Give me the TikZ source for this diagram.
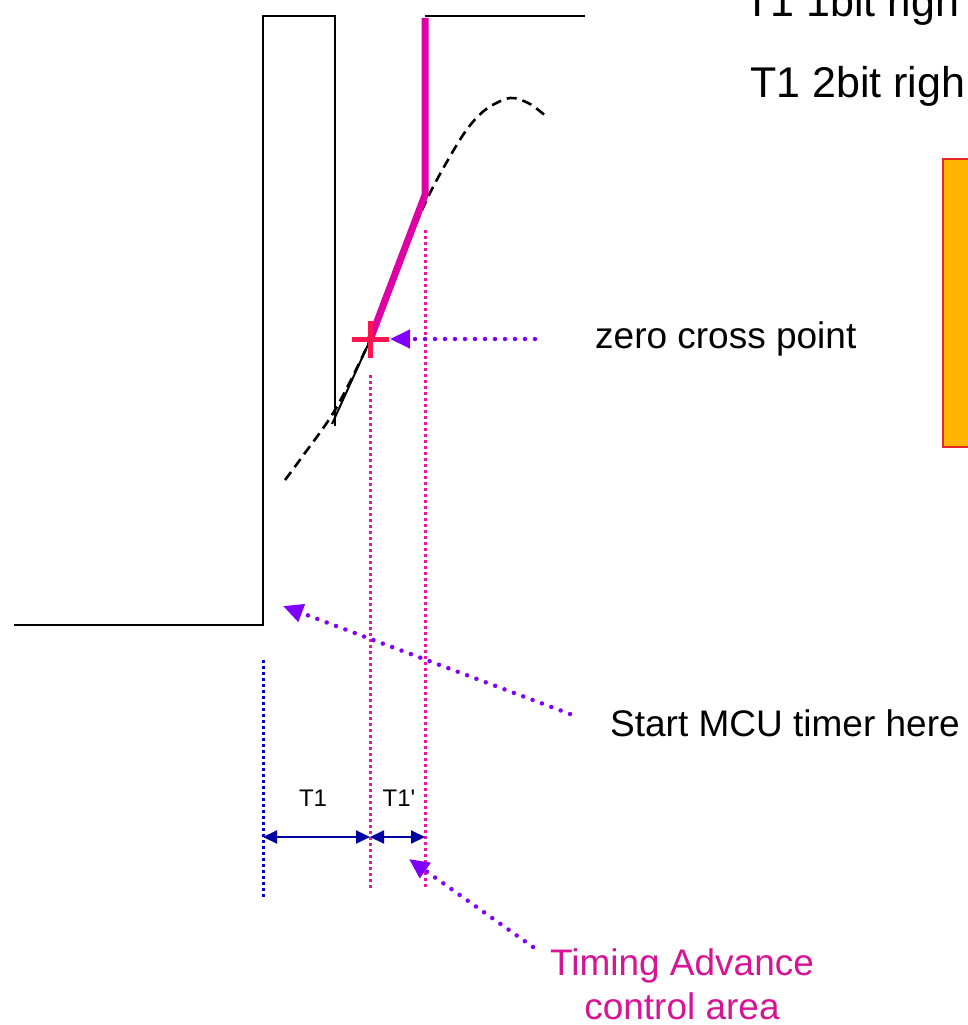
\documentclass[tikz,border=0pt]{standalone}
\usepackage{fontspec}
\setmainfont{Liberation Sans}
\usetikzlibrary{arrows.meta}
\definecolor{magline}{RGB}{220,0,165}
\definecolor{pinkdot}{RGB}{240,20,165}
\definecolor{purparrow}{RGB}{128,0,255}
\definecolor{redplus}{RGB}{255,20,80}
\definecolor{bluedot}{RGB}{0,0,200}
\definecolor{bluearr}{RGB}{0,0,165}
\definecolor{orangefill}{RGB}{255,180,0}
\definecolor{orangeedge}{RGB}{235,40,40}
\definecolor{magtext}{RGB}{215,20,150}
\begin{document}
\begin{tikzpicture}[x=1pt,y=-1pt,
  wave/.style={black,line width=2pt},
  sinedash/.style={black,line width=2.6pt,dash pattern=on 10pt off 6pt},
  magthick/.style={magline,line width=7pt,line join=round},
  pinkvert/.style={pinkdot,line width=3pt,dash pattern=on 3pt off 3pt},
  bluevert/.style={bluedot,line width=3pt,dash pattern=on 3pt off 3pt},
  purpdots/.style={purparrow,line width=4.5pt,line cap=round,dash pattern=on 0pt off 10pt,
     -{Triangle[length=20pt,width=18pt,line cap=butt]}},
  bluedim/.style={bluearr,line width=2pt,{Triangle[length=14pt,width=13pt]}-{Triangle[length=14pt,width=13pt]}},
  bigtxt/.style={font=\fontsize{37}{44}\selectfont,inner sep=0pt},
  toptxt/.style={font=\fontsize{43}{50}\selectfont,inner sep=0pt},
  smalltxt/.style={font=\fontsize{24}{28}\selectfont,inner sep=0pt}]
\useasboundingbox (0,0) rectangle (968,1025);
\clip (0,0) rectangle (968,1025);

% orange box (cut at right edge)
\draw[fill=orangefill,draw=orangeedge,line width=2pt] (943,159) rectangle (985,447);

% black waveform
\draw[wave] (14,625) -- (263,625) -- (263,16) -- (335,16) -- (335,426);
\draw[wave] (425,16) -- (585,16);
\draw[wave] (332,424) -- (372,336);

% dashed sine
\draw[sinedash] plot[smooth] coordinates {(285,480) (302,457) (335,410) (370,340) (400,262) (430,193) (463,135) (485,110) (510,98) (530,104) (548,118)};

% dotted verticals
\draw[pinkvert] (370,375) -- (370,888);
\draw[pinkvert] (425,230) -- (425,888);
\draw[bluevert] (263,660) -- (263,898);

% magenta thick edge
\draw[magthick] (425,18) -- (425,195) -- (370,340);

% red plus (zero cross point)
\coordinate (zc) at (370,339);
\draw[redplus,line width=5pt] (352,339) -- (389,339);
\draw[redplus,line width=5pt] (370,321) -- (370,358);

% labels
\node[bigtxt,anchor=west] (zcp) at (595,339) {zero cross point};
\node[bigtxt,anchor=west] (smt) at (610,723) {Start MCU timer here};
\node[bigtxt,align=center,text=magtext] (tac) at (682,984) {Timing Advance\\control area};
\node[toptxt,anchor=base west] (t1a) at (744,17) {T1 1bit righ};
\node[toptxt,anchor=base west] (t1b) at (750,97) {T1 2bit righ};
\node[smalltxt] (lt1) at (313,798) {T1};
\node[smalltxt] (lt1p) at (399,798) {T1\textquotesingle};

% purple dotted arrows
\coordinate (a1s) at (535,339);
\coordinate (a1e) at (390,339);
\draw[purpdots] (a1s) -- (a1e);
\coordinate (a2s) at (570,714);
\coordinate (a2e) at (283,606);
\draw[purpdots] (a2s) -- (a2e);
\coordinate (a3s) at (533,947);
\coordinate (a3e) at (409,859);
\draw[purpdots] (a3s) -- (a3e);

% dimension arrows
\coordinate (d0) at (263,837);
\coordinate (d1) at (370,837);
\coordinate (d2) at (425,837);
\draw[bluedim] (d0) -- (d1);
\draw[bluedim] (d1) -- (d2);
\end{tikzpicture}
\end{document}
